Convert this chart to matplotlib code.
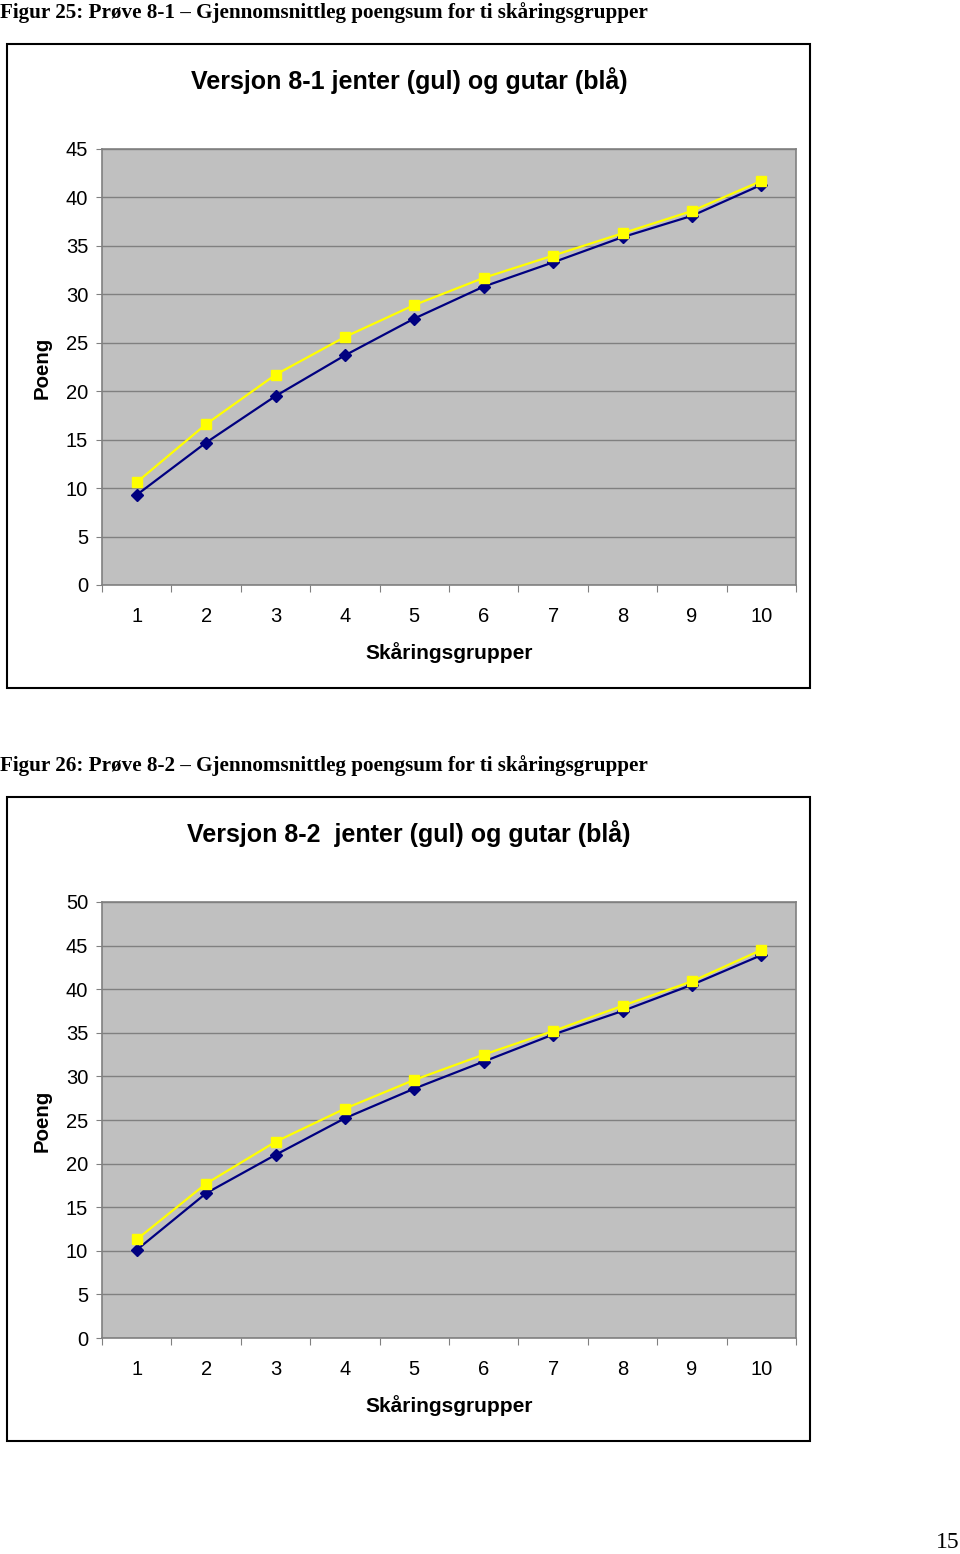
import numpy as np
import matplotlib
matplotlib.use("Agg")
import matplotlib.pyplot as plt
from matplotlib.patches import Rectangle

W, H = 960, 1554

# Data
groups = [1, 2, 3, 4, 5, 6, 7, 8, 9, 10]

jenter_81 = [10.6, 16.6, 21.7, 25.6, 28.9, 31.7, 34.0, 36.3, 38.6, 41.7]
gutar_81 = [9.3, 14.7, 19.5, 23.7, 27.5, 30.8, 33.3, 35.9, 38.1, 41.3]

jenter_82 = [11.3, 17.7, 22.5, 26.3, 29.6, 32.5, 35.2, 38.1, 40.9, 44.5]
gutar_82 = [10.1, 16.6, 21.0, 25.2, 28.6, 31.7, 34.8, 37.5, 40.5, 43.9]

captions = ["Figur 25: Prøve 8-1 – Gjennomsnittleg poengsum for ti skåringsgrupper",
            "Figur 26: Prøve 8-2 – Gjennomsnittleg poengsum for ti skåringsgrupper"]
titles = ["Versjon 8-1 jenter (gul) og gutar (blå)",
          "Versjon 8-2  jenter (gul) og gutar (blå)"]

fig = plt.figure(figsize=(W / 100, H / 100), dpi=100)
fig.patch.set_facecolor("white")

def fx(x):
    return x / W

def fy(y):
    return 1 - y / H

def px_axes(x0, y0, x1, y1):
    return fig.add_axes([fx(x0), fy(y1), (x1 - x0) / W, (y1 - y0) / H])

def draw_chart(top, jenter, gutar, caption, title, ymax):
    # caption above the frame
    fig.text(fx(0), fy(top - 31), caption, family="Liberation Serif",
             weight="bold", fontsize=15.2, ha="left", va="center")
    # outer chart frame
    fig.patches.append(Rectangle((fx(7), fy(top + 644)), (810 - 7) / W, 644 / H,
                                 transform=fig.transFigure, fill=False,
                                 edgecolor="black", linewidth=1.5))
    fig.text(fx(409), fy(top + 37), title, family="Liberation Sans",
             weight="bold", fontsize=18, ha="center", va="center")

    ax = px_axes(102, top + 105, 796, top + 541)
    ax.set_facecolor("#c0c0c0")
    ax.plot(groups, jenter, color="#ffff00", lw=1.6, zorder=3)
    ax.plot(groups, gutar, color="#000080", lw=1.6, zorder=4)
    ax.plot(groups, gutar, ls="none", marker="D", ms=6.5, color="#000080", zorder=5)
    ax.plot(groups, jenter, ls="none", marker="s", ms=7, color="#ffff00", zorder=6)

    ax.set_xlim(0.5, 10.5)
    ax.set_ylim(0, ymax)
    ax.set_yticks(np.arange(0, ymax + 1, 5))
    ax.set_xticks(np.arange(0.5, 11, 1))
    ax.set_xticklabels([])
    ax.set_xticks(groups, minor=True)
    ax.set_xticklabels([str(g) for g in groups], minor=True)
    ax.tick_params(axis="x", which="minor", length=0, pad=16, labelsize=14.5)
    ax.tick_params(axis="x", which="major", length=5, color="#808080", direction="out")
    ax.tick_params(axis="y", length=4, color="#808080", direction="out", pad=6,
                   labelsize=14.5)
    for lab in ax.get_xticklabels(minor=True) + ax.get_yticklabels():
        lab.set_family("Liberation Sans")

    ax.grid(axis="y", color="#808080", lw=1.0)
    ax.set_axisbelow(True)
    for s in ax.spines.values():
        s.set_color("#808080")
        s.set_linewidth(1.2)

    fig.text(fx(42), fy(top + 324), "Poeng", family="Liberation Sans",
             weight="bold", fontsize=14.7, rotation=90, ha="center", va="center")
    fig.text(fx(449), fy(top + 609), "Skåringsgrupper", family="Liberation Sans",
             weight="bold", fontsize=15, ha="center", va="center")

draw_chart(44, jenter_81, gutar_81, captions[0], titles[0], 45)
draw_chart(797, jenter_82, gutar_82, captions[1], titles[1], 50)

fig.text(fx(960), fy(1543), "15", family="Liberation Serif", fontsize=17,
         ha="right", va="center")

fig.savefig("out.png", dpi=100)
